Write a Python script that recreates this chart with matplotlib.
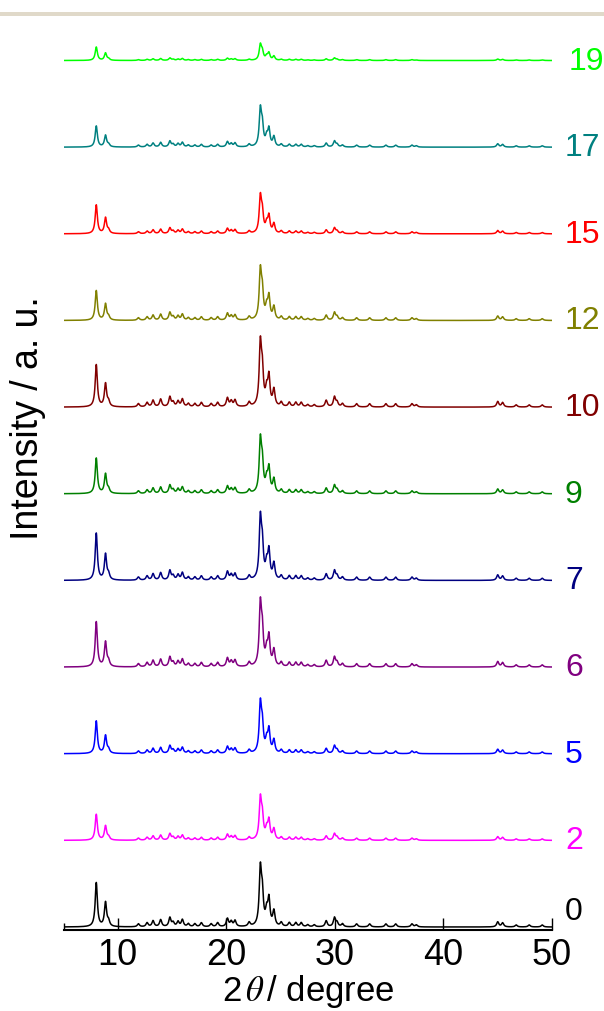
import numpy as np
import matplotlib.pyplot as plt
from matplotlib.patches import Rectangle

plt.rcParams['font.family'] = ['Liberation Sans', 'DejaVu Sans']
plt.rcParams['mathtext.fontset'] = 'stix'

# sample labels and line colours, bottom to top
samples = ['0', '2', '5', '6', '7', '9', '10', '12', '15', '17', '19']
colors = ['#000000', '#ff00ff', '#0000ff', '#800080', '#000080', '#008000',
          '#800000', '#808000', '#ff0000', '#008080', '#00ff00']

# reflections of the reference pattern (sample 0): 2theta (deg) and height (a.u.)
low_pos = [8.02, 8.87, 9.15]
low_h0 = [44, 24, 5]
peak_pos = [11.9, 12.7, 13.25, 13.95, 14.8, 15.1, 15.55, 15.95, 16.5, 17.1,
            17.7, 18.6, 19.2, 20.1, 20.45, 20.8, 22.1, 23.13, 23.31, 23.71,
            23.92, 24.38, 25.06, 25.8, 26.4, 26.9, 27.5, 28.1, 29.2, 29.96,
            30.2, 30.7, 32.0, 33.2, 34.7, 35.6, 37.1, 37.5, 45.0, 45.45,
            46.7, 47.9, 49.1]
peak_h0 = [3, 4, 6, 7, 9, 4, 5, 7, 3, 3,
           4, 3, 4, 8, 5, 6, 4, 54, 30, 13,
           26, 15, 4, 4, 4, 4, 2, 2, 6, 9,
           4, 3, 3, 3, 3, 3, 3, 2, 5, 4,
           2, 2, 2]

# per-sample heights (a.u.) of the 23.1 deg and 8.0 deg reflections
main_height = [63, 45, 54, 68, 67, 58, 69, 54, 40, 41, 17]
low_height = [46, 27, 34, 47, 49, 37, 44, 31, 30, 22, 14]

step = 86.65
hwhm = 0.12

two_theta = np.linspace(5, 50, 4501)


def profile(pos, heights, scale):
    y = np.zeros_like(two_theta)
    for p, h in zip(pos, heights):
        y += h * scale / (1 + ((two_theta - p) / hwhm) ** 2)
    return y


fig = plt.figure(figsize=(6.04, 10.12), dpi=100)
ax = fig.add_axes([63.5 / 604, 1 - 931 / 1012, (552 - 63.5) / 604, 911 / 1012])

for i, (name, c) in enumerate(zip(samples, colors)):
    y = profile(low_pos, low_h0, low_height[i] / low_height[0])
    y += profile(peak_pos, peak_h0, main_height[i] / main_height[0])
    base = i * step
    ax.plot(two_theta, y + base, color=c, lw=1.1)
    dy = 16 if i == 0 else 0
    xoff = 569 if name == '19' else 565
    ax.text(xoff / 604, 1 - (928 - base - dy) / 1012, name, color=c,
            fontsize=23, ha='left', va='center', transform=fig.transFigure)

ax.set_xlim(5, 50)
ax.set_ylim(-3, 908)
for s in ['left', 'right', 'top']:
    ax.spines[s].set_visible(False)
ax.spines['bottom'].set_linewidth(1.5)
ax.set_yticks([])
ax.set_xticks([10, 20, 30, 40, 50])
ax.set_xticks([5], minor=True)
ax.tick_params(axis='x', which='major', direction='in', length=9, width=1.0,
               labelsize=26, pad=5)
ax.tick_params(axis='x', which='minor', direction='in', length=5, width=1.0)
ax.set_xlabel(r'2$\,\theta\,$/ degree', fontsize=25, labelpad=0)

fig.text(28 / 604, 1 - 418 / 1012, 'Intensity / a. u.', rotation=90,
         fontsize=27, ha='center', va='center')

# grey rule across the top of the page
fig.add_artist(Rectangle((0, 1 - 16.5 / 1012), 1, 4 / 1012, transform=fig.transFigure,
                         color='#e0d9c9', lw=0))

fig.savefig('out.png', dpi=100)
